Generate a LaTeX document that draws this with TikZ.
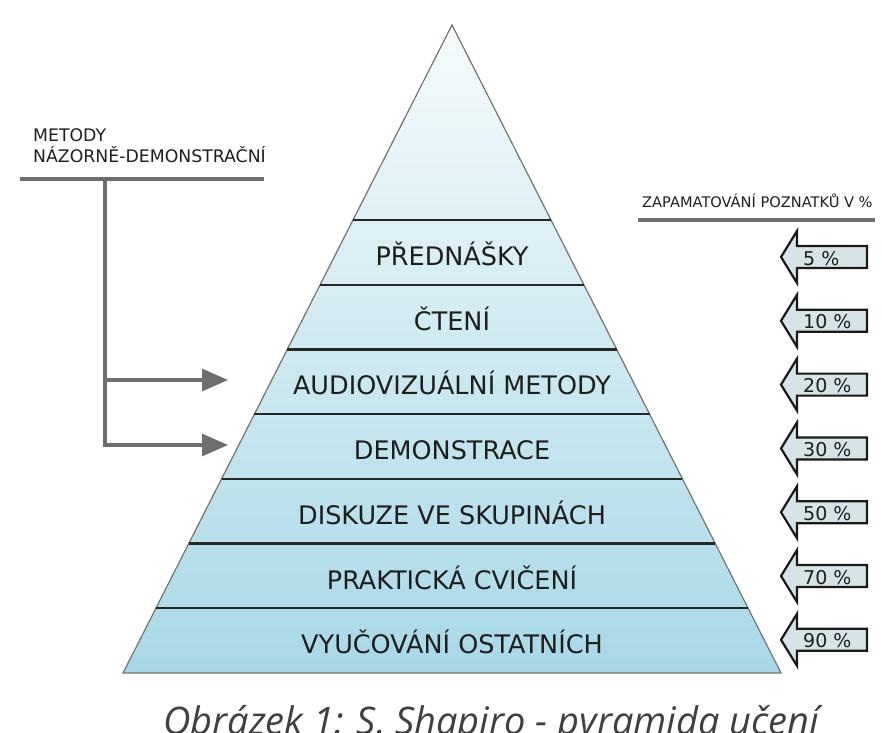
\documentclass[tikz,border=0pt]{standalone}
\usepackage{fontspec}
\setmainfont{DejaVu Sans}
\newfontfamily\capfont{Open Sans}
\usetikzlibrary{arrows.meta}
\definecolor{txt}{RGB}{30,30,30}
\definecolor{lgrey}{RGB}{110,110,110}
\definecolor{topc}{RGB}{246,251,252}
\definecolor{botc}{RGB}{168,216,230}
\definecolor{arrfill}{RGB}{214,228,232}
\tikzset{
  layertext/.style={anchor=base, inner sep=0pt, text=txt, font=\fontsize{25.5}{27}\selectfont},
  pcttext/.style={anchor=base west, inner sep=0pt, text=txt, font=\fontsize{19}{21}\selectfont},
  hdrtext/.style={anchor=base west, inner sep=0pt, text=txt},
  greyline/.style={draw=lgrey, line width=3.2pt},
  greyarrow/.style={draw=lgrey, line width=3.2pt, -{Triangle[length=26pt,width=22pt]}},
  pctarrow/.style={draw=black!90, line width=2.2pt, fill=arrfill, line join=miter},
}
\begin{document}
\begin{tikzpicture}[x=1pt,y=-1pt]
\useasboundingbox (0,0) rectangle (882,732);
% pyramid
\coordinate (apex) at (452,25);
\coordinate (bl) at (123,673);
\coordinate (br) at (781,673);
\shade[top color=topc, bottom color=botc] (apex) -- (br) -- (bl) -- cycle;
\draw[draw=black!55, line width=1.2pt, line join=miter] (apex) -- (br) -- (bl) -- cycle;
% layer lines
\foreach \k in {0,...,6}{
  \pgfmathsetmacro{\yy}{220+64.7*\k}
  \pgfmathsetmacro{\hw}{(\yy-25)*0.5077}
  \coordinate (ll\k) at (452-\hw,\yy);
  \coordinate (lr\k) at (452+\hw,\yy);
  \draw[black!85, line width=2.2pt] (ll\k) -- (lr\k);
}
% layer texts
\node[layertext] (t1) at (452,265.5) {PŘEDNÁŠKY};
\node[layertext] (t2) at (452,330.2) {ČTENÍ};
\node[layertext] (t3) at (452,394.9) {AUDIOVIZUÁLNÍ METODY};
\node[layertext] (t4) at (452,459.6) {DEMONSTRACE};
\node[layertext] (t5) at (452,524.3) {DISKUZE VE SKUPINÁCH};
\node[layertext] (t6) at (452,589.0) {PRAKTICKÁ CVIČENÍ};
\node[layertext] (t7) at (452,653.7) {VYUČOVÁNÍ OSTATNÍCH};
% left header
\node[hdrtext, font=\fontsize{17.3}{19}\selectfont] (m1) at (33,141) {METODY};
\node[hdrtext, font=\fontsize{17.3}{19}\selectfont] (m2) at (33,162) {NÁZORNĚ-DEMONSTRAČNÍ};
\coordinate (hl) at (20,179);
\coordinate (hr) at (264,179);
\coordinate (vt) at (105,179);
\coordinate (vb) at (105,445);
\coordinate (a1s) at (105,380);
\coordinate (a1e) at (228,380);
\coordinate (a2e) at (228,445);
\draw[greyline] (hl) -- (hr);
\draw[greyline] (vt) -- (vb);
\draw[greyarrow] (a1s) -- (a1e);
\draw[greyarrow] ([xshift=-1.6pt]vb) -- (a2e);
% right header
\node[hdrtext, font=\fontsize{14.6}{16}\selectfont] (zh) at (642,207) {ZAPAMATOVÁNÍ POZNATKŮ V \%};
\coordinate (rl) at (638,220);
\coordinate (rr) at (875,220);
\draw[greyline] (rl) -- (rr);
% percentage arrows
\foreach \k/\p in {0/5,1/10,2/20,3/30,4/50,5/70,6/90}{
  \pgfmathsetmacro{\cy}{257+63.8*\k}
  \draw[pctarrow] (781,\cy) -- (797,\cy-26) -- (797,\cy-11) -- (867,\cy-11) -- (867,\cy+11) -- (797,\cy+11) -- (797,\cy+26) -- cycle;
  \node[pcttext] (p\k) at (803,\cy+8) {\p~\%};
}
% caption
\node[anchor=base west, inner sep=0pt, text=black!75, font=\capfont\itshape\fontsize{38}{40}\selectfont] (cap) at (163,734.5) {Obrázek 1: S. Shapiro - pyramida učení};
\end{tikzpicture}
\end{document}
